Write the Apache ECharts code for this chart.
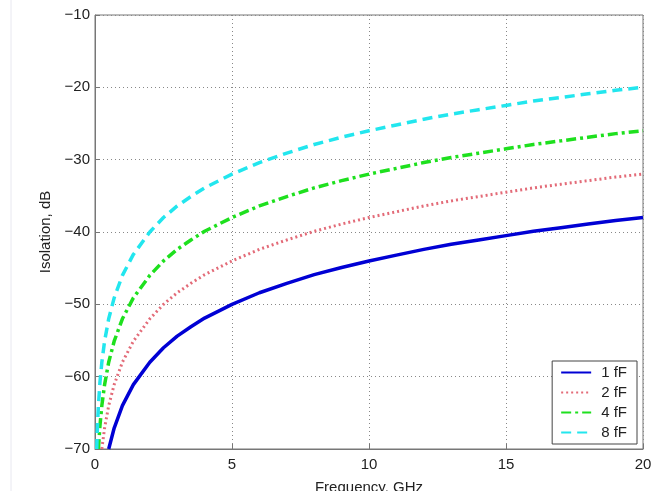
<!DOCTYPE html>
<html lang="en">
<head>
  <meta charset="UTF-8">
  <title>Isolation vs frequency</title>
  <style>
    html, body { margin: 0; padding: 0; background: #fff; }
    #main { width: 654px; height: 491px; }
  </style>
</head>
<body>
  <div id="main"></div>
  <script src="https://cdn.jsdelivr.net/npm/echarts@6/dist/echarts.min.js"></script>
  <script>
    var myChart = echarts.init(document.getElementById("main"));

    // frequency points, GHz
    var freq = [0.0625, 0.09, 0.125, 0.18, 0.25, 0.35, 0.5, 0.7, 1, 1.4, 2, 2.5, 3, 3.5, 4, 5, 6, 7, 8, 9, 10,
                11, 12, 13, 14, 15, 16, 17, 18, 19, 20];
    // isolation, dB (null = below the axis)
    var iso1fF = [null, null, null, null, null, null, -70, -67.1, -64, -61.1, -58, -56, -54.4, -53.1, -51.9, -50, -48.4, -47.1, -45.9, -44.9, -44,
                  -43.2, -42.4, -41.7, -41.1, -40.5, -39.9, -39.4, -38.9, -38.4, -38];
    var iso2fF = [null, null, null, null, -70, -67.1, -64, -61.1, -58, -55.1, -52, -50, -48.4, -47.1, -45.9, -44, -42.4, -41.1, -39.9, -38.9, -38,
                  -37.2, -36.4, -35.7, -35.1, -34.5, -33.9, -33.4, -32.9, -32.4, -32];
    var iso4fF = [null, null, -70, -66.8, -64, -61.1, -58, -55.1, -52, -49.1, -46, -44, -42.4, -41.1, -39.9, -38, -36.4, -35.1, -33.9, -32.9, -32,
                  -31.2, -30.4, -29.7, -29.1, -28.5, -27.9, -27.4, -26.9, -26.4, -26];
    var iso8fF = [-70, -66.8, -64, -60.8, -58, -55.1, -52, -49.1, -46, -43.1, -40, -38, -36.4, -35.1, -33.9, -32, -30.4, -29.1, -27.9, -26.9, -26,
                  -25.2, -24.4, -23.7, -23.1, -22.5, -21.9, -21.4, -20.9, -20.4, -20];
    var seriesNames = ["1 fF", "2 fF", "4 fF", "8 fF"];
    var xTicks = [0, 5, 10, 15, 20];
    var yTicks = [-70, -60, -50, -40, -30, -20, -10];

    function pairs(ys) {
      var res = [];
      for (var i = 0; i < freq.length; i++) {
        if (ys[i] !== null) res.push([freq[i], ys[i]]);
      }
      return res;
    }

    var font = "'Liberation Sans', Arial, sans-serif";
    var styles = [
      { color: "#0000d4", type: "solid", width: 3.5 },
      { color: "#e36b78", type: [2, 3], width: 3 },
      { color: "#1ee01e", type: [10, 4, 3, 4], width: 3.5 },
      { color: "#22e6ee", type: [10, 6], width: 3.5 }
    ];
    var allData = [iso1fF, iso2fF, iso4fF, iso8fF];

    var option = {
      backgroundColor: "#fff",
      animation: false,
      grid: {
        left: 95, right: 11, top: 15, bottom: 42,
        outerBoundsMode: "none",
        show: true, borderColor: "#777", borderWidth: 1
      },
      graphic: [{
        type: "line", shape: { x1: 11, y1: 0, x2: 11, y2: 491 },
        style: { stroke: "#e8e8f0", lineWidth: 1 }
      }],
      legend: {
        orient: "vertical",
        right: 17, bottom: 47,
        data: seriesNames,
        itemWidth: 30, itemHeight: 10, itemGap: 5,
        padding: [4, 10, 4, 8],
        borderColor: "#444", borderWidth: 1, borderRadius: 0,
        backgroundColor: "#fff",
        itemStyle: { opacity: 0 },
        textStyle: { fontFamily: font, fontSize: 15, color: "#222", padding: [0, 0, 0, 5] }
      },
      xAxis: {
        type: "value", min: 0, max: 20, interval: 5,
        name: "Frequency, GHz", nameLocation: "middle", nameGap: 31,
        nameTextStyle: { fontFamily: font, fontSize: 15, color: "#222" },
        axisLine: { show: true, lineStyle: { color: "#777" } },
        axisTick: { show: true, inside: true, length: 5, lineStyle: { color: "#777" } },
        axisLabel: {
          fontFamily: font, fontSize: 15, color: "#222", margin: 8,
          formatter: function (v) { return xTicks.indexOf(v) >= 0 ? String(v) : ""; }
        },
        splitLine: { show: true, lineStyle: { color: "#888", type: [1, 3] } }
      },
      yAxis: {
        type: "value", min: -70, max: -10, interval: 10,
        name: "Isolation, dB", nameLocation: "middle", nameGap: 39,
        nameTextStyle: { fontFamily: font, fontSize: 15, color: "#222" },
        axisLine: { show: true, lineStyle: { color: "#777" } },
        axisTick: { show: true, inside: true, length: 5, lineStyle: { color: "#777" } },
        axisLabel: {
          fontFamily: font, fontSize: 15, color: "#222", margin: 5,
          formatter: function (v) {
            return yTicks.indexOf(v) >= 0 ? String(v).replace("-", "\u2212") : "";
          }
        },
        splitLine: { show: true, lineStyle: { color: "#888", type: [1, 3] } }
      },
      series: seriesNames.map(function (n, i) {
        return {
          name: n, type: "line",
          data: pairs(allData[i]),
          showSymbol: false, symbol: "none",
          smooth: false,
          clip: true,
          itemStyle: { color: styles[i].color },
          lineStyle: { color: styles[i].color, type: styles[i].type, width: styles[i].width }
        };
      })
    };

    myChart.setOption(option);
  </script>
</body>
</html>
